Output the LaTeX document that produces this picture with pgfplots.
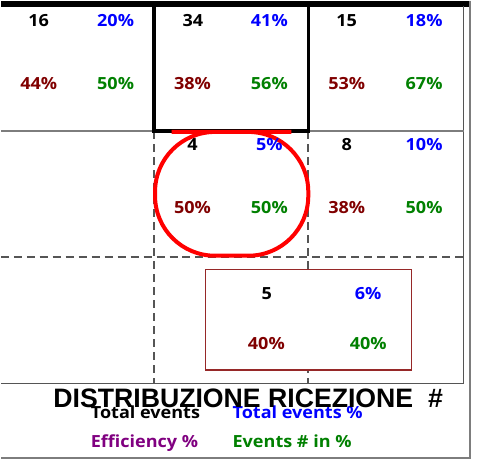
\documentclass[border=0pt]{standalone}
\usepackage{fontspec}
\setmainfont{Open Sans}[FakeStretch=1.08]
\newfontfamily\titlefont{Liberation Sans}
\usepackage{pgfplots}
\pgfplotsset{compat=1.18}
\definecolor{dred}{RGB}{128,0,0}
\definecolor{dgreen}{RGB}{0,128,0}
\definecolor{purp}{RGB}{128,0,128}
\definecolor{boxred}{RGB}{150,40,40}
\definecolor{gline}{RGB}{125,125,125}
\definecolor{dline}{RGB}{85,85,85}
\pgfplotstableread{
x y l
38 26 16
192.5 26 34
346.5 26 15
192 150.5 4
346.5 150.5 8
266.5 299 5
}\totalev
\pgfplotstableread{
x y l
115 26 20
269 26 41
424 26 18
269 150.5 5
424 150.5 10
368 299 6
}\totalpct
\pgfplotstableread{
x y l
38 88.5 44
192 88.5 38
346.5 88.5 53
192 213.5 50
346.5 213.5 38
266 349 40
}\effpct
\pgfplotstableread{
x y l
115 88.5 50
269 88.5 56
424 88.5 67
269 213.5 50
424 213.5 50
368 349 40
}\evinpct
\begin{document}
\begin{tikzpicture}
\begin{axis}[scale only axis, width=464bp, height=379bp,
  xmin=0, xmax=464, ymin=5, ymax=384, y dir=reverse,
  hide axis, clip=false,
  lbl/.style={draw=none, mark=none, nodes near coords, point meta=explicit symbolic,
    every node near coord/.append style={anchor=base, inner sep=0pt,
      font=\fontsize{16.8}{19}\selectfont\bfseries}},
]
\path (axis cs:0,0) rectangle (axis cs:478,461);
% top band
\fill[black] (axis cs:0,0) rectangle (axis cs:470,6.5);
% outer frame
\draw[gline, line width=1.3bp] (axis cs:470,0) -- (axis cs:470,458) -- (axis cs:0,458);
% inner frame
\draw[dline, line width=1.3bp] (axis cs:463.5,5) -- (axis cs:463.5,383.5) -- (axis cs:0,383.5);
% top row separators
\draw[gline, line width=1.2bp] (axis cs:0,130.5) -- (axis cs:464,130.5);
% dashed grid
\draw[dline, line width=1.6bp, dash pattern=on 8bp off 5bp] (axis cs:153.5,131) -- (axis cs:153.5,384);
\draw[dline, line width=1.6bp, dash pattern=on 8bp off 5bp] (axis cs:308,131) -- (axis cs:308,384);
\draw[dline, line width=1.6bp, dash pattern=on 8bp off 5bp] (axis cs:0,256.5) -- (axis cs:464,256.5);
% thick box
\draw[black, line width=3.5bp] (axis cs:153.5,5) -- (axis cs:153.5,130.5) -- (axis cs:308,130.5) -- (axis cs:308,5);
% red rounded shape
\draw[red, line width=4bp, rounded corners=60bp] (axis cs:231,131.5) -- (axis cs:308,131.5) -- (axis cs:308,255.5) -- (axis cs:154.5,255.5) -- (axis cs:154.5,131.5) -- cycle;
% dark red box
\draw[boxred, fill=white, line width=1.1bp] (axis cs:205,269.5) rectangle (axis cs:411,370);

\addplot[lbl, every node near coord/.append style={text=black}] table[x=x, y=y, meta=l] {\totalev};
\addplot[lbl, nodes near coords={\pgfplotspointmeta\%}, every node near coord/.append style={text=blue}] table[x=x, y=y, meta=l] {\totalpct};
\addplot[lbl, nodes near coords={\pgfplotspointmeta\%}, every node near coord/.append style={text=dred}] table[x=x, y=y, meta=l] {\effpct};
\addplot[lbl, nodes near coords={\pgfplotspointmeta\%}, every node near coord/.append style={text=dgreen}] table[x=x, y=y, meta=l] {\evinpct};

% legend texts
\node[anchor=base west, inner sep=0pt, font=\fontsize{16.8}{19}\selectfont\bfseries, text=black] at (axis cs:90,418.5) {Total events};
\node[anchor=base west, inner sep=0pt, font=\fontsize{16.8}{19}\selectfont\bfseries, text=blue] at (axis cs:232,418.5) {Total events \%};
\node[anchor=base west, inner sep=0pt, font=\fontsize{16.8}{19}\selectfont\bfseries, text=purp] at (axis cs:90,448) {Efficiency \%};
\node[anchor=base west, inner sep=0pt, font=\fontsize{16.8}{19}\selectfont\bfseries, text=dgreen] at (axis cs:232,448) {Events \# in \%};
% title
\node[anchor=base west, inner sep=0pt, font=\titlefont\bfseries\fontsize{26.8}{30}\selectfont] at (axis cs:52.5,408) {DISTRIBUZIONE RICEZIONE\ \ \#};
\end{axis}
\end{tikzpicture}
\end{document}
